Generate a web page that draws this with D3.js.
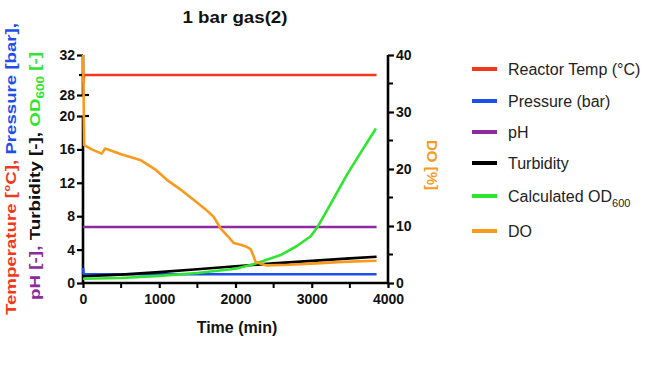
<!DOCTYPE html>
<html><head><meta charset="utf-8">
<script src="https://cdn.jsdelivr.net/npm/d3@7"></script>
<style>body{margin:0;background:#fff;}svg{display:block;font-family:"Liberation Sans",Arial,sans-serif;}</style>
</head><body><svg id="c" width="650" height="368"></svg>
<script>
const title = "1 bar gas(2)";
const xTicks = [0, 1000, 2000, 3000, 4000];
const xMinor = [500, 1500, 2500, 3500];
const leftLowTicks = [0, 4, 8, 12, 16, 20];
const leftHighTicks = [28, 32];
const rightTicks = [0, 10, 20, 30, 40];
const rightMinor = [5, 15, 25, 35];

const temperature = [[0,29.2],[15,30],[500,30],[1000,30],[2000,30],[3000,30],[3850,30]];
const pressure = [[0,1.8],[10,1.05],[1000,1.05],[2000,1.05],[3000,1.05],[3850,1.05]];
const ph = [[0,6.7],[1000,6.7],[2000,6.7],[3000,6.7],[3850,6.7]];
const turbidity = [[0,0.8],[500,1.0],[1000,1.3],[1500,1.65],[2000,2.0],[2500,2.35],[3000,2.65],[3500,2.95],[3850,3.15]];
const od600 = [[0,0.5],[500,0.6],[1000,0.85],[1500,1.2],[2000,1.7],[2237,2.25],[2400,2.75],[2592,3.35],[2800,4.4],[2987,5.6],[3075,6.7],[3250,9.5],[3470,13.1],[3689,16.3],[3842,18.5]];
const dissolvedO2 = [[0,40],[8,33],[15,24.2],[120,23.4],[246,22.7],[290,23.6],[500,22.6],[750,21.6],[950,19.9],[1100,18.1],[1300,16.2],[1450,14.6],[1600,13.0],[1714,11.6],[1803,9.6],[1900,8.2],[1978,7.0],[2066,6.7],[2154,6.3],[2200,5.9],[2241,4.6],[2263,3.7],[2400,3.1],[2700,3.2],[3000,3.4],[3400,3.7],[3850,3.9]];

const series = [
  {name:"Reactor Temp (°C)", data:temperature, color:"#f2381c", axis:"high"},
  {name:"Pressure (bar)", data:pressure, color:"#1f4fe8", axis:"low"},
  {name:"pH", data:ph, color:"#8c2b9e", axis:"low"},
  {name:"Turbidity", data:turbidity, color:"#000000", axis:"low"},
  {name:"Calculated OD", sub:"600", data:od600, color:"#2ee62e", axis:"low"},
  {name:"DO", data:dissolvedO2, color:"#f89a1e", axis:"right"}
];

const FF = "'Liberation Sans', Arial, sans-serif";
const svg = d3.select("#c");
const x = d3.scaleLinear().domain([0,4000]).range([83,388]);
const yLow = d3.scaleLinear().domain([0,20]).range([283,116]);
const yHigh = d3.scaleLinear().domain([28,32]).range([95,55]);
const yR = d3.scaleLinear().domain([0,40]).range([283,55]);

const tickFont = "bold 14px " + FF;

// X axis
const gx = svg.append("g").attr("transform","translate(0,283)")
  .call(d3.axisBottom(x).tickValues(xTicks).tickSize(5).tickPadding(6).tickFormat(d3.format("d")));
gx.append("g").selectAll("line").data(xMinor).join("line")
  .attr("x1",d=>x(d)).attr("x2",d=>x(d)).attr("y1",0).attr("y2",5).attr("stroke","#000").attr("stroke-width",2);

// Left axis
const gl = svg.append("g").attr("transform","translate(83,0)")
  .call(d3.axisLeft(yLow).tickValues(leftLowTicks).tickSize(6).tickPadding(2).tickFormat(d3.format("d")));
const gh = svg.append("g").attr("transform","translate(83,0)")
  .call(d3.axisLeft(yHigh).tickValues(leftHighTicks).tickSize(6).tickPadding(2).tickFormat(d3.format("d")));
svg.append("line").attr("x1",83).attr("x2",89).attr("y1",yLow(20)).attr("y2",yLow(20)).attr("stroke","#000").attr("stroke-width",2.2);
svg.append("line").attr("x1",83).attr("x2",89).attr("y1",yHigh(28)).attr("y2",yHigh(28)).attr("stroke","#000").attr("stroke-width",2.2);
svg.append("line").attr("x1",79).attr("x2",83).attr("y1",yHigh(30)).attr("y2",yHigh(30)).attr("stroke","#000").attr("stroke-width",2.2);

// Right axis
const gr = svg.append("g").attr("transform","translate(388,0)")
  .call(d3.axisRight(yR).tickValues(rightTicks).tickSize(6).tickPadding(2));
gr.append("g").selectAll("line").data(rightMinor).join("line")
  .attr("x1",0).attr("x2",5).attr("y1",d=>yR(d)).attr("y2",d=>yR(d)).attr("stroke","#000").attr("stroke-width",2);

[gx,gl,gh,gr].forEach(g=>{
  g.selectAll("path.domain").attr("stroke","#000").attr("stroke-width",2.6);
  g.selectAll(".tick line").attr("stroke","#000").attr("stroke-width",2.2);
  g.selectAll(".tick text").style("font",tickFont).attr("fill","#111");
});
gl.select("path.domain").attr("d","M0,283V116");
gh.select("path.domain").attr("d","M0,95V55");
gx.select("path.domain").attr("d","M83,0H388");
gr.select("path.domain").attr("d","M0,283V55");

// Lines
series.forEach(s=>{
  const yScale = s.axis==="high" ? yHigh : s.axis==="right" ? yR : yLow;
  const line = d3.line().x(d=>x(d[0])).y(d=>yScale(d[1]));
  svg.append("path").datum(s.data).attr("d",line).attr("fill","none")
    .attr("stroke",s.color).attr("stroke-width",2.6).attr("stroke-linejoin","round");
});

// Title
svg.append("text").attr("x",235).attr("y",23).attr("text-anchor","middle")
  .style("font","bold 16px " + FF).attr("fill","#111")
  .attr("textLength",105).attr("lengthAdjust","spacingAndGlyphs").text(title);
// X title
svg.append("text").attr("x",237).attr("y",333).attr("text-anchor","middle")
  .style("font","bold 16px " + FF).attr("fill","#111").text("Time (min)");

// Left titles
const lt1 = svg.append("text").attr("transform","translate(16,169) rotate(-90)").attr("text-anchor","middle")
  .style("font","bold 14px " + FF).attr("textLength",292).attr("lengthAdjust","spacingAndGlyphs");
lt1.append("tspan").attr("fill","#f2381c").text("Temperature [°C], ");
lt1.append("tspan").attr("fill","#1f4fe8").text("Pressure [bar],");
const lt2 = svg.append("text").attr("transform","translate(40,176) rotate(-90)").attr("text-anchor","middle")
  .style("font","bold 14px " + FF).attr("textLength",248).attr("lengthAdjust","spacingAndGlyphs");
lt2.append("tspan").attr("fill","#8c2b9e").text("pH [-], ");
lt2.append("tspan").attr("fill","#111").text("Turbidity [-], ");
lt2.append("tspan").attr("fill","#2ee62e").text("OD");
lt2.append("tspan").attr("fill","#2ee62e").attr("dy",4).style("font-size","10px").text("600");
lt2.append("tspan").attr("fill","#2ee62e").attr("dy",-4).text(" [-]");

// Right title
svg.append("text").attr("transform","translate(427,165) rotate(90)").attr("text-anchor","middle")
  .style("font","bold 15px " + FF).attr("fill","#f89a1e").text("DO [%]");

// Legend
const legY = [69,101,132,163,196,231];
const leg = svg.append("g");
series.forEach((s,i)=>{
  leg.append("line").attr("x1",472).attr("x2",497).attr("y1",legY[i]).attr("y2",legY[i])
    .attr("stroke",s.color).attr("stroke-width",4);
  const t = leg.append("text").attr("x",508).attr("y",legY[i]+6)
    .style("font","16px " + FF).attr("fill","#222");
  t.append("tspan").text(s.name);
  if(s.sub) t.append("tspan").attr("dy",5).style("font-size","11px").text(s.sub);
});
</script></body></html>
